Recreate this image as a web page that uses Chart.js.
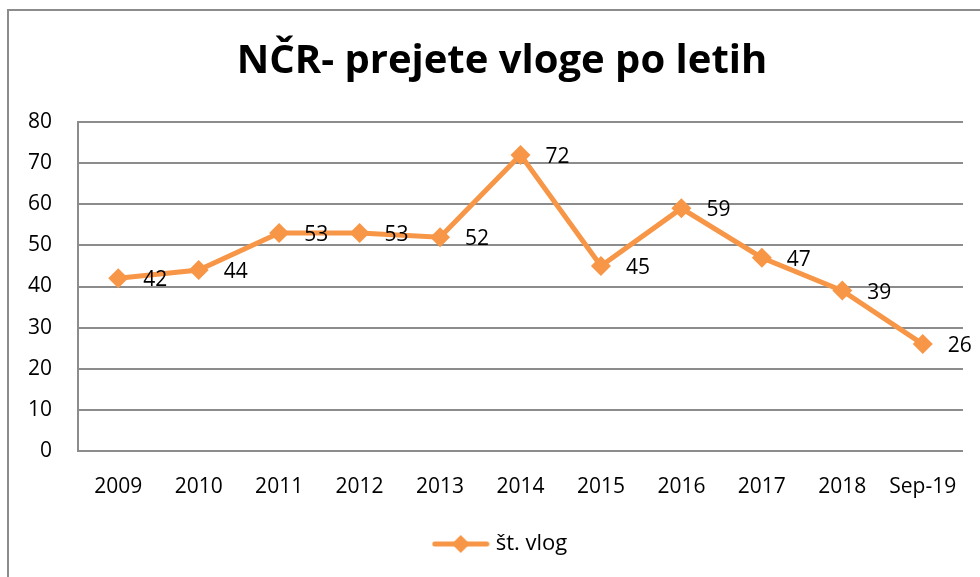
<!DOCTYPE html>
<html>
<head>
<meta charset="utf-8">
<script src="https://cdn.jsdelivr.net/npm/chart.js@4"></script>
<style>
    body { margin: 0; background: #fff; overflow: hidden; }
    #frame {
        position: absolute; left: 7px; top: 9px;
        width: 1000px; height: 600px;
        border: 2px solid #8c8c8c; box-sizing: border-box;
    }
    #wrap { position: absolute; left: 0; top: 0; width: 980px; height: 577px; }
</style>
</head>
<body>
<div id="frame"></div>
<div id="wrap"><canvas id="vlogeChart" width="980" height="577"></canvas></div>
<script>
// ===================================
// NČR - prejete vloge po letih
// ===================================

const years = ['2009', '2010', '2011', '2012', '2013', '2014', '2015', '2016', '2017', '2018', 'Sep-19'];
const vloge = [42, 44, 53, 53, 52, 72, 45, 59, 47, 39, 26];
const yTicks = [0, 10, 20, 30, 40, 50, 60, 70, 80];
const seriesName = 'št. vlog';

const orange = '#F79646';
const grid = '#8c8c8c';
const fontFamily = '"Open Sans", sans-serif';

// Legend icon: line with a diamond in the middle
function legendIcon() {
    const c = document.createElement('canvas');
    c.width = 58;
    c.height = 22;
    const g = c.getContext('2d');
    g.strokeStyle = orange;
    g.lineWidth = 5;
    g.lineCap = 'round';
    g.beginPath();
    g.moveTo(3, 11);
    g.lineTo(55, 11);
    g.stroke();
    g.fillStyle = orange;
    g.beginPath();
    g.moveTo(29, 2);
    g.lineTo(38, 11);
    g.lineTo(29, 20);
    g.lineTo(20, 11);
    g.closePath();
    g.fill();
    return c;
}

// Value labels right of each point
const valueLabels = {
    id: 'valueLabels',
    afterDatasetsDraw(chart) {
        const ctx = chart.ctx;
        const meta = chart.getDatasetMeta(0);
        ctx.save();
        ctx.fillStyle = '#000';
        ctx.font = '21px ' + fontFamily;
        ctx.textAlign = 'left';
        ctx.textBaseline = 'middle';
        meta.data.forEach((pt, i) => {
            ctx.fillText(String(vloge[i]), pt.x + 25, pt.y + 2);
        });
        ctx.restore();
    }
};

// Centre title and legend on the whole frame, not only left of the plot edge
const recentre = {
    id: 'recentre',
    afterLayout(chart) {
        [chart.titleBlock, chart.legend].forEach(b => {
            if (!b) return;
            b.left = 41;
            b.width = b.right - b.left;
        });
    }
};

const icon = legendIcon();

new Chart(document.getElementById('vlogeChart'), {
    type: 'line',
    data: {
        labels: years,
        datasets: [{
            label: seriesName,
            data: vloge,
            borderColor: orange,
            backgroundColor: orange,
            borderWidth: 5,
            pointStyle: 'rectRot',
            pointRadius: 10,
            pointHoverRadius: 10,
            pointBackgroundColor: orange,
            pointBorderWidth: 0,
            tension: 0
        }]
    },
    options: {
        responsive: false,
        animation: false,
        events: [],
        layout: {
            padding: { left: 0, right: 17, top: 38, bottom: 12 }
        },
        plugins: {
            title: {
                display: true,
                text: 'NČR- prejete vloge po letih',
                color: '#000',
                font: { family: fontFamily, size: 40, weight: 'bold' },
                padding: { top: 0, bottom: 36 }
            },
            legend: {
                position: 'bottom',
                labels: {
                    usePointStyle: true,
                    pointStyle: icon,
                    pointStyleWidth: 48,
                    color: '#000',
                    font: { family: fontFamily, size: 22 },
                    padding: 8,
                    generateLabels: () => [{
                        text: seriesName,
                        pointStyle: icon,
                        fillStyle: orange,
                        strokeStyle: orange,
                        lineWidth: 0,
                        datasetIndex: 0
                    }]
                }
            },
            tooltip: { enabled: false }
        },
        scales: {
            x: {
                offset: true,
                grid: { display: false, drawTicks: false },
                border: { display: true, color: grid, width: 2 },
                ticks: {
                    color: '#000',
                    padding: 23,
                    maxRotation: 0,
                    font: { family: fontFamily, size: 21 }
                },
                afterFit: function(scale) { scale.height = 74; }
            },
            y: {
                min: 0,
                max: 80,
                afterBuildTicks: function(scale) {
                    scale.ticks = yTicks.map(v => ({ value: v }));
                },
                grid: { color: grid, lineWidth: 2, drawTicks: false },
                border: { display: true, color: grid, width: 2 },
                ticks: {
                    color: '#000',
                    padding: 26,
                    font: { family: fontFamily, size: 21 }
                },
                afterFit: function(scale) { scale.width = 78; }
            }
        }
    },
    plugins: [valueLabels, recentre]
});
</script>
</body>
</html>
